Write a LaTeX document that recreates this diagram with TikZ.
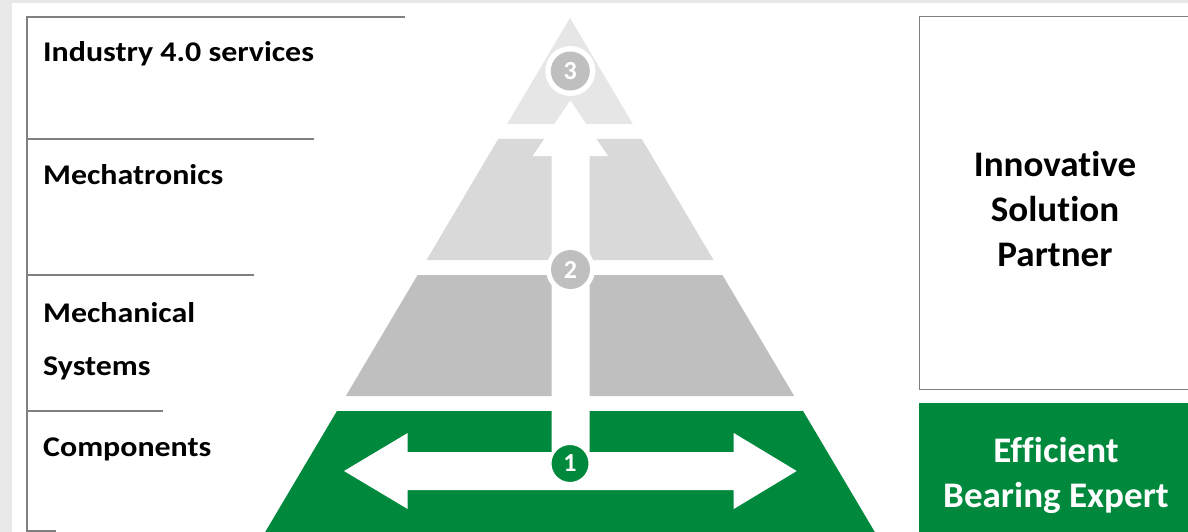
\documentclass[tikz,border=0pt]{standalone}
\usepackage{fontspec}
\setmainfont{Carlito}[Ligatures=NoCommon]
\newfontfamily\levelfont{Carlito}[Ligatures=NoCommon, FakeStretch=1.12]
\newfontfamily\rolefont{Carlito}[Ligatures=NoCommon, FakeStretch=1.03]
\definecolor{sgreen}{RGB}{0,137,61}
\definecolor{tierA}{RGB}{230,230,230}
\definecolor{tierB}{RGB}{217,217,217}
\definecolor{tierC}{RGB}{191,191,191}
\definecolor{rulegray}{RGB}{128,128,128}
\definecolor{pagegray}{RGB}{232,232,232}
\tikzset{
  level label/.style={anchor=base west, inner sep=0pt, font=\levelfont\fontsize{28.5}{53.3}\selectfont\bfseries},
  badge/.style={circle, fill=tierC, minimum size=39pt, inner sep=0pt, text=white, font=\fontsize{26}{26}\selectfont\bfseries},
  halo/.style={circle, fill=white, minimum size=50pt, inner sep=0pt},
  role/.style={align=center, inner sep=0pt, font=\rolefont\fontsize{36}{45}\selectfont\bfseries},
}
\begin{document}
\begin{tikzpicture}[x=1pt, y=-1pt]
    \useasboundingbox (0,0) rectangle (1188,532);
    \fill[pagegray] (0,0) rectangle (1188,532);
    \fill[white] (12,3) rectangle (1188,532);

    \begin{scope}[rulegray, line width=1.5pt]
        \draw (405,17) -- (27,17) -- (27,532);
        \foreach \y/\len in {139/314, 275/254, 411/163, 531/56}
            \draw (27,\y) -- (\len,\y);
    \end{scope}

    \node[level label] (industry) at (43,61.7) {Industry 4.0 services};
    \node[level label] (mechatronics) at (43,184.3) {Mechatronics};
    \node[level label, anchor=west, align=left] (mechanical) at (43,341) {Mechanical\\Systems};
    \node[level label] (components) at (43,456.7) {Components};

    \foreach \ytop/\ybot/\col in {18/124/tierA, 139/260/tierB, 275/396/tierC, 411/532/sgreen}
        \fill[\col] ({570-0.593*(\ytop-18)},\ytop) -- ({570+0.593*(\ytop-18)},\ytop)
            -- ({570+0.593*(\ybot-18)},\ybot) -- ({570-0.593*(\ybot-18)},\ybot) -- cycle;

    \fill[white] (551.5,471) -- (551.5,156) -- (532.7,156) -- (570.3,100.5) -- (608,156)
        -- (589.5,156) -- (589.5,471) -- cycle;
    \fill[white] (344,471) -- (407.7,433) -- (407.7,452) -- (733.7,452) -- (733.7,433)
        -- (796.7,471) -- (733.7,509) -- (733.7,490) -- (407.7,490) -- (407.7,509) -- cycle;

    \node[halo] (halo3) at (570.3,71) {};
    \node[badge] (badge3) at (halo3) {3};
    \node[halo, minimum size=49pt] (halo2) at (570.5,269.5) {};
    \node[badge] (badge2) at (halo2) {2};
    \node[badge, fill=sgreen, draw=white, line width=2pt] (badge1) at (570,463.5) {1};

    \draw[rulegray, line width=1pt, fill=white] (919,17) rectangle (1195,389);
    \fill[sgreen] (919,403) rectangle (1195,540);
    \node[role] (partner) at (1055,209) {Innovative\\Solution\\Partner};
    \node[role, text=white] (expert) at (1056,475) {Efficient\\Bearing Expert};
\end{tikzpicture}
\end{document}
